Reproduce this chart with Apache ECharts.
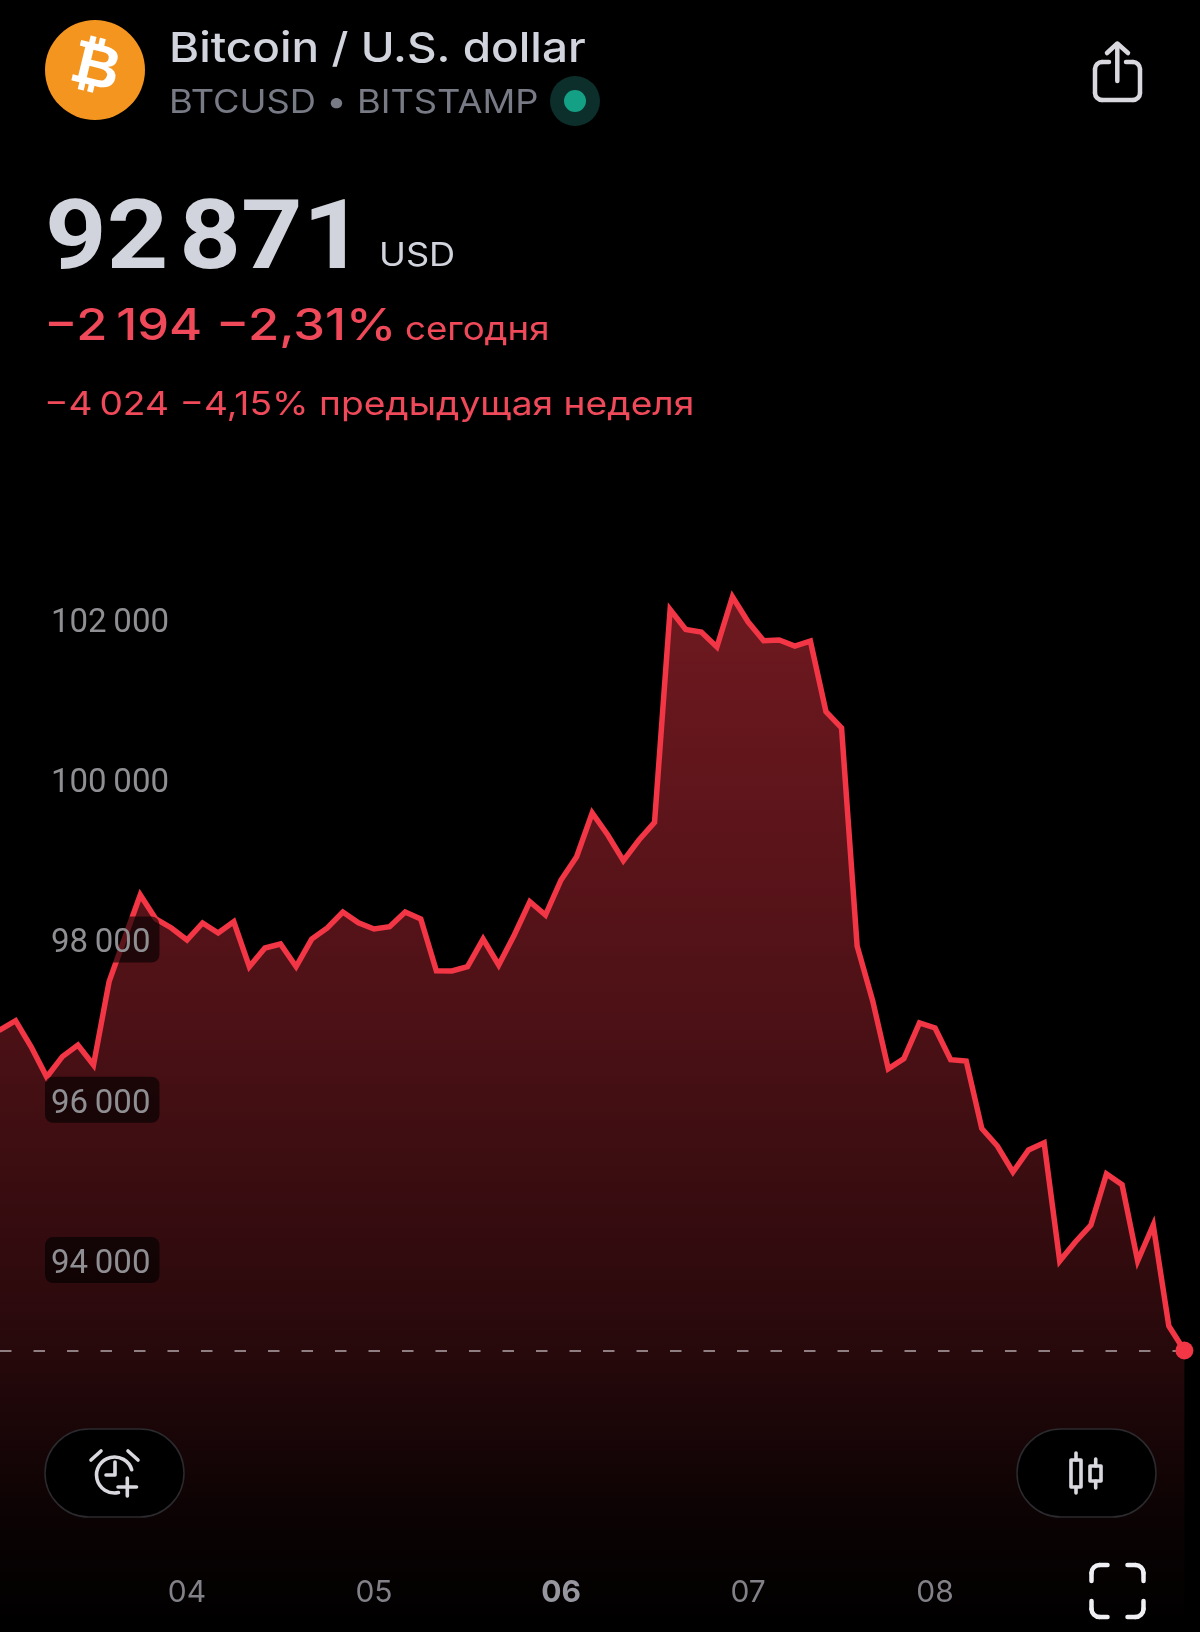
<!DOCTYPE html>
<html><head><meta charset="utf-8">
<style>html,body{margin:0;padding:0;background:#000}#c{width:1200px;height:1632px}</style>
<script src="https://cdn.jsdelivr.net/npm/echarts@6/dist/echarts.min.js"></script>
</head><body><div id="c"></div>
<script>
const prices = [96871,96987,96662,96284,96538,96684,96434,97474,98019,98556,98256,98144,97994,98206,98081,98222,97661,97894,97944,97661,98006,98144,98343,98210,98131,98160,98343,98256,97611,97607,97661,98006,97682,98056,98472,98306,98743,99034,99579,99304,98985,99242,99463,102117,101869,101838,101651,102277,101965,101729,101738,101663,101725,100844,100640,97919,97233,96386,96514,96959,96896,96501,96484,95641,95423,95099,95373,95463,93988,94225,94437,95074,94941,93988,94437,93177,92871];
const dayLabels = ['04','05','06','07','08'];
const boldDay = '06';
const pointsPerDay = 12;
const yTicks = [94000,96000,98000,100000,102000];
const lastPrice = 92871;
const texts = {
  title:'Bitcoin / U.S. dollar', sub:'BTCUSD • BITSTAMP', price:'92\u200a871', cur:'USD',
  day:'\u22122\u2009194 \u22122,31%', dayWord:'сегодня', week:'\u22124\u2009024 \u22124,15% предыдущая неделя'
};
const categories = prices.map((_, i) => (i % pointsPerDay === 0 && i > 0 && dayLabels[i / pointsPerDay - 1]) || '');

const FONT = 'Inter, "Noto Sans", sans-serif';
const ROBOTO = 'Roboto, ' + FONT;
const RED = '#f23645', TXT = '#d1d4dc', REDTXT = '#f0495a', ICON = '#d8d8de';
// x, baseline y, text, weight, size, colour, horizontal stretch
const txt = (x, y, text, weight, size, fill, sx, fam) => ({type:'text', x, y:y + 0.155 * size, scaleX:sx || 1, z:20,
  style:{text, font:weight + ' ' + size + 'px ' + (fam || FONT), fill, verticalAlign:'bottom'}});
const sk = (w, c) => ({stroke:c || ICON, lineWidth:w, fill:null, lineCap:'round', lineJoin:'round'});
const poly = (points, w, c) => ({type:'polyline', z:20, shape:{points}, style:sk(w, c)});
const arc = (cx, cy, r, a0, a1, w, c) => ({type:'arc', z:20, shape:{cx, cy, r, startAngle:a0, endAngle:a1, clockwise:true}, style:sk(w, c)});
const pill = (x, y, w, h) => ({type:'rect', z:15, shape:{x, y, width:w, height:h, r:44}, style:{fill:'#000', stroke:'#2b2a2e', lineWidth:1.5}});
const PI = Math.PI;
const W = '#f0f0f4';

const graphics = [
  {type:'circle', z:20, shape:{cx:95, cy:70, r:50}, style:{fill:'#f4951f'}},
  {type:'text', z:21, x:95, y:70, rotation:-0.24, style:{text:'₿', font:'bold 60px "DejaVu Sans", sans-serif', fill:'#fff', align:'center', verticalAlign:'middle'}},
  txt(169, 64, texts.title, 500, 41, TXT, 1.119),
  txt(169, 114, texts.sub, 400, 33, '#787b86', 1.10),
  {type:'circle', z:20, shape:{cx:575, cy:101, r:25}, style:{fill:'#0c2f2b'}},
  {type:'circle', z:21, shape:{cx:575, cy:101, r:11}, style:{fill:'#14a085'}},
  txt(45, 277.5, texts.price, 700, 96, TXT, 1.12, ROBOTO),
  txt(379, 267, texts.cur, 400, 32, TXT, 1.13),
  txt(44, 342, texts.day, 500, 44, REDTXT, 1.15),
  txt(405, 341, texts.dayWord, 400, 33, REDTXT, 1.11),
  txt(44, 416, texts.week, 400, 33, REDTXT, 1.127),
  // share icon
  poly([[1109,62],[1102,62]], 4.5), arc(1102,69,7,PI,1.5*PI,4.5), poly([[1095,69],[1095,93]], 4.5), arc(1102,93,7,0.5*PI,PI,4.5),
  poly([[1102,100],[1133,100]], 4.5), arc(1133,93,7,0,0.5*PI,4.5), poly([[1140,93],[1140,69]], 4.5), arc(1133,69,7,1.5*PI,2*PI,4.5), poly([[1133,62],[1126,62]], 4.5),
  poly([[1117.3,81],[1117.3,44]], 4.5), poly([[1107,53],[1117.3,43.5],[1128,53]], 4.5),
  // alarm button
  pill(45, 1429, 139, 88),
  {type:'arc', z:20, shape:{cx:114.5, cy:1475, r:18, startAngle:1.35, endAngle:-0.3, clockwise:true}, style:sk(3.6)},
  poly([[115,1462],[115,1475],[106,1475]], 3.6),
  poly([[91,1460],[101,1451]], 3.6), poly([[128,1451],[138,1460]], 3.6),
  poly([[118,1487],[136.5,1487]], 3.6), poly([[127.3,1478],[127.3,1496]], 3.6),
  // candle button
  pill(1017, 1429, 139, 88),
  {type:'rect', z:20, shape:{x:1071, y:1460, width:10, height:27}, style:sk(3.6)},
  poly([[1076,1453],[1076,1460]], 3.6), poly([[1076,1487],[1076,1493]], 3.6),
  {type:'rect', z:20, shape:{x:1090, y:1466, width:11, height:15}, style:sk(3.6)},
  poly([[1095.7,1459],[1095.7,1466]], 3.6), poly([[1095.7,1481],[1095.7,1488]], 3.6),
  // fullscreen
  poly([[1091.5,1581],[1091.5,1573]], 4.5, W), arc(1099.5,1573,8,PI,1.5*PI,4.5,W), poly([[1099.5,1565],[1107.5,1565]], 4.5, W),
  poly([[1127.5,1565],[1135.5,1565]], 4.5, W), arc(1135.5,1573,8,1.5*PI,2*PI,4.5,W), poly([[1143.5,1573],[1143.5,1581]], 4.5, W),
  poly([[1143.5,1601],[1143.5,1609]], 4.5, W), arc(1135.5,1609,8,0,0.5*PI,4.5,W), poly([[1135.5,1617],[1127.5,1617]], 4.5, W),
  poly([[1107.5,1617],[1099.5,1617]], 4.5, W), arc(1099.5,1609,8,0.5*PI,PI,4.5,W), poly([[1091.5,1609],[1091.5,1601]], 4.5, W)
];

const chart = echarts.init(document.getElementById('c'), null, {renderer:'canvas', width:1200, height:1632});
chart.setOption({
  animation:false,
  backgroundColor:'#000',
  textStyle:{fontFamily:FONT},
  grid:{left:0, right:15.6, top:458.74, height:1173.26},
  xAxis:{
    type:'category', data:categories, boundaryGap:false,
    axisLine:{show:false}, axisTick:{show:false}, splitLine:{show:false},
    axisLabel:{
      inside:true, margin:24, color:'#808289', fontSize:30, fontFamily:FONT,
      interval:(i, v) => v !== '',
      formatter:v => v === boldDay ? '{b|' + v + '}' : v,
      rich:{b:{fontWeight:700, fontSize:30, color:'#9598a1', fontFamily:FONT}}
    }
  },
  yAxis:{
    type:'value', min:89358, max:104000, z:5,
    axisLine:{show:false}, axisTick:{show:false}, splitLine:{show:false},
    axisLabel:{
      inside:true, margin:45, align:'left', color:'#8f8f93', fontSize:33, fontFamily:ROBOTO,
      customValues:yTicks,
      formatter:v => '{n|' + String(v).replace(/(\d{3})$/, '\u2009$1') + '}',
      rich:{n:{color:'#8f8f93', fontSize:33, fontFamily:ROBOTO, padding:[6,0,0,0]}},
      backgroundColor:'rgba(0,0,0,0.62)', borderRadius:8, padding:[5,9,2,6]
    }
  },
  series:[{
    type:'line', data:prices, symbol:'none', showSymbol:false, clip:false, z:2,
    lineStyle:{color:RED, width:5.5, join:'miter', cap:'round'},
    areaStyle:{opacity:1, origin:'start', color:{type:'linear', x:0, y:0, x2:0, y2:1, colorStops:[
      {offset:0, color:'rgba(242,54,69,0.46)'},
      {offset:0.39, color:'rgba(242,54,69,0.32)'},
      {offset:0.73, color:'rgba(242,54,69,0.16)'},
      {offset:0.9, color:'rgba(242,54,69,0.04)'},
      {offset:1, color:'rgba(242,54,69,0)'}
    ]}},
    markLine:{
      silent:true, symbol:'none', animation:false, label:{show:false},
      lineStyle:{color:'#8f7f82', width:2, type:[11.5,22]},
      data:[{yAxis:lastPrice}]
    },
    markPoint:{
      silent:true, symbol:'circle', symbolSize:18, animation:false, label:{show:false},
      itemStyle:{color:RED},
      data:[{coord:[prices.length - 1, lastPrice]}]
    }
  }],
  graphic:graphics
});
</script></body></html>
